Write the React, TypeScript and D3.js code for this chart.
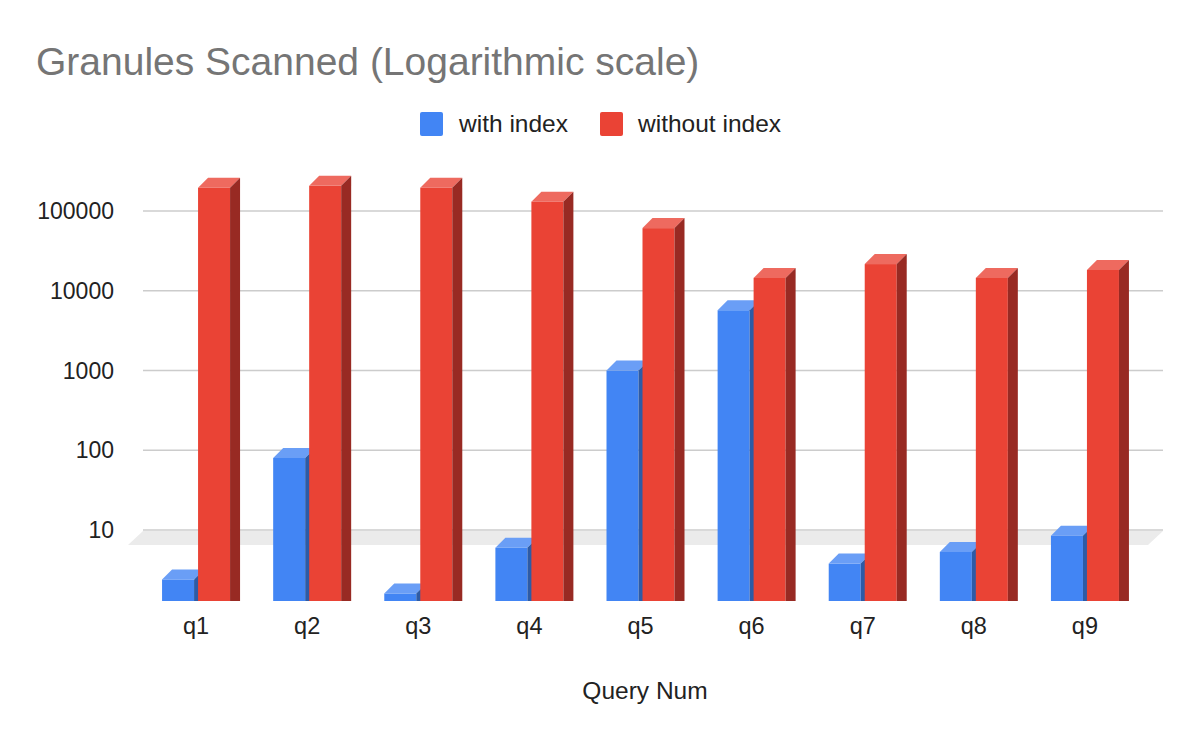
import React from "react";
import * as d3 from "d3";

const categories = ["q1", "q2", "q3", "q4", "q5", "q6", "q7", "q8", "q9"];
const withIndex = [2.4, 80, 1.6, 6, 1000, 5700, 3.8, 5.3, 8.5];
const withoutIndex = [196000, 207000, 196000, 131000, 61000, 14500, 21600, 14500, 18200];
const yTicks = [10, 100, 1000, 10000, 100000];
const seriesNames = ["with index", "without index"];
const titleText = "Granules Scanned (Logarithmic scale)";
const xTitle = "Query Num";

const FONT = "'Liberation Sans', Arial, sans-serif";
const COLORS = [
  { front: "#4285f4", top: "#6a9ef6", side: "#2d5ba6" },
  { front: "#ea4335", top: "#ee6a5f", side: "#982a23" },
];

export default function App() {
  const W = 1200, H = 742;
  const y = d3.scaleLog().domain([10, 100000]).range([530, 211]);
  const x = d3.scaleBand().domain(categories).range([140.5, 1140.5]);
  const bottom = 601;
  const depth = 10;
  const barW = 32;
  const gridLeft = 143, gridRight = 1163;

  const bar = (x0: number, v: number, c: typeof COLORS[0], key: string) => {
    const yt = y(v);
    const d = depth;
    return (
      <g key={key}>
        <rect x={x0} y={yt} width={barW} height={bottom - yt} fill={c.front} />
        <polygon
          points={`${x0},${yt} ${x0 + d},${yt - d} ${x0 + barW + d},${yt - d} ${x0 + barW},${yt}`}
          fill={c.top}
        />
        <polygon
          points={`${x0 + barW},${yt} ${x0 + barW + d},${yt - d} ${x0 + barW + d},${bottom} ${x0 + barW},${bottom}`}
          fill={c.side}
        />
      </g>
    );
  };

  return (
    <svg width={W} height={H} style={{ position: "absolute", left: 0, top: 0, background: "#fff" }} fontFamily={FONT}>
      <rect width={W} height={H} fill="#fff" />
      <text x={36} y={75} fontSize={39} fill="#757575">{titleText}</text>

      {/* legend */}
      <rect x={420} y={112} width={23} height={24} rx={2} fill={COLORS[0].front} />
      <text x={459} y={132} fontSize={24.5} fill="#222">{seriesNames[0]}</text>
      <rect x={600} y={112} width={23} height={24} rx={2} fill={COLORS[1].front} />
      <text x={638} y={132} fontSize={24.5} fill="#222">{seriesNames[1]}</text>

      {/* floor */}
      <polygon points={`${gridLeft},531 ${gridRight},531 ${gridRight - 15},545 ${gridLeft - 15},545`} fill="#ebebeb" />

      {/* gridlines & ticks */}
      {yTicks.map((t) => (
        <g key={t}>
          <line x1={gridLeft} x2={gridRight} y1={y(t)} y2={y(t)} stroke="#cccccc" strokeWidth={1.5} />
          <text x={114} y={y(t)} dy="0.35em" textAnchor="end" fontSize={23} fill="#222">{t}</text>
        </g>
      ))}

      {/* bars */}
      {categories.map((c, i) => {
        const cx = (x(c) as number) + x.bandwidth() / 2;
        return (
          <g key={c}>
            {bar(cx - 34, withIndex[i], COLORS[0], c + "a")}
            {bar(cx + 2, withoutIndex[i], COLORS[1], c + "b")}
            <text x={cx} y={634} textAnchor="middle" fontSize={23.5} fill="#222">{c}</text>
          </g>
        );
      })}

      <text x={645} y={699} textAnchor="middle" fontSize={24.5} fill="#222">{xTitle}</text>
    </svg>
  );
}
